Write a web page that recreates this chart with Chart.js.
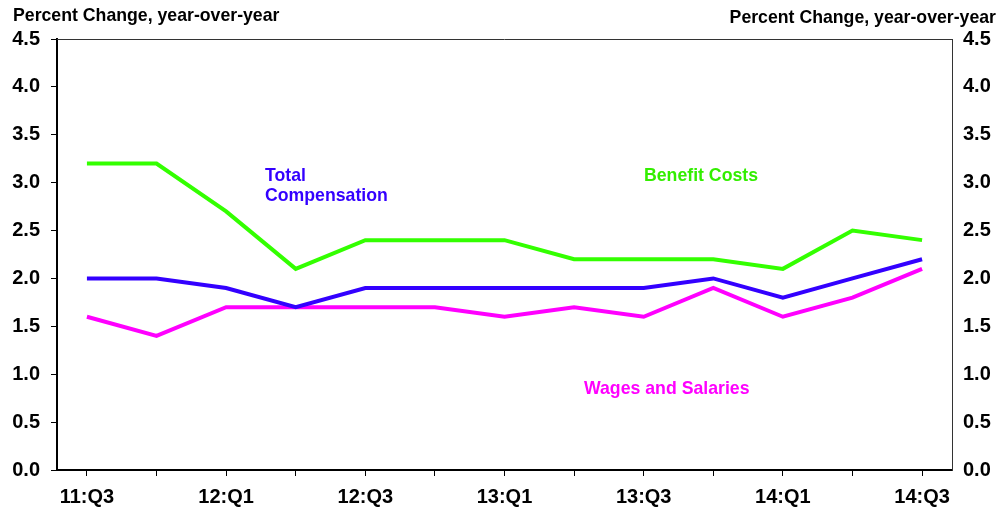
<!DOCTYPE html>
<html>
<head>
<meta charset="utf-8">
<script src="https://cdn.jsdelivr.net/npm/chart.js@4/dist/chart.umd.min.js"></script>
<style>
  html, body { margin: 0; padding: 0; background: #fff; }
  #wrap { width: 1003px; height: 515px; }
</style>
</head>
<body>
<div id="wrap"><canvas id="ecChart"></canvas></div>
<script>
const quarters = ["11:Q3", "11:Q4", "12:Q1", "12:Q2", "12:Q3", "12:Q4", "13:Q1",
                  "13:Q2", "13:Q3", "13:Q4", "14:Q1", "14:Q2", "14:Q3"];
const benefitCosts = [3.2, 3.2, 2.7, 2.1, 2.4, 2.4, 2.4, 2.2, 2.2, 2.2, 2.1, 2.5, 2.4];
const totalComp    = [2.0, 2.0, 1.9, 1.7, 1.9, 1.9, 1.9, 1.9, 1.9, 2.0, 1.8, 2.0, 2.2];
const wages        = [1.6, 1.4, 1.7, 1.7, 1.7, 1.7, 1.6, 1.7, 1.6, 1.9, 1.6, 1.8, 2.1];
const yTicks = [0, 0.5, 1, 1.5, 2, 2.5, 3, 3.5, 4, 4.5];

const FONT = "'Liberation Sans', Arial, sans-serif";

function pts(arr) {
  return arr.map((v, i) => ({ x: i, y: v }));
}

// axis captions, series labels and top frame line
const decor = {
  id: "decor",
  afterDraw(chart) {
    const ctx = chart.ctx;
    const a = chart.chartArea;
    ctx.save();
    ctx.strokeStyle = "#333";
    ctx.lineWidth = 1;
    ctx.beginPath();
    ctx.moveTo(a.left, a.top + 0.5);
    ctx.lineTo(a.right, a.top + 0.5);
    ctx.stroke();

    ctx.font = "bold 17.7px " + FONT;
    ctx.textBaseline = "middle";
    ctx.fillStyle = "#000";
    ctx.textAlign = "left";
    ctx.fillText("Percent Change, year-over-year", 13, 16);
    ctx.textAlign = "right";
    ctx.fillText("Percent Change, year-over-year", 996, 18);

    ctx.textAlign = "left";
    ctx.fillStyle = "#3300ff";
    ctx.fillText("Total", 265, 176);
    ctx.fillText("Compensation", 265, 196);
    ctx.fillStyle = "#33ee00";
    ctx.fillText("Benefit Costs", 644, 176);
    ctx.fillStyle = "#ff00ff";
    ctx.fillText("Wages and Salaries", 584, 389);
    ctx.restore();
  }
};

const yTickOpts = {
  font: { family: FONT, size: 20, weight: "bold" },
  color: "#000",
  padding: 11,
  callback: v => v.toFixed(1)
};

new Chart(document.getElementById("ecChart"), {
  type: "line",
  data: {
    datasets: [
      { label: "Benefit Costs", data: pts(benefitCosts), borderColor: "#33ff00" },
      { label: "Total Compensation", data: pts(totalComp), borderColor: "#3300ff" },
      { label: "Wages and Salaries", data: pts(wages), borderColor: "#ff00ff" }
    ]
  },
  options: {
    responsive: true,
    maintainAspectRatio: false,
    animation: false,
    layout: { padding: { top: 39 } },
    elements: {
      line: { borderWidth: 4, tension: 0 },
      point: { radius: 0 }
    },
    plugins: { legend: { display: false }, tooltip: { enabled: false } },
    scales: {
      x: {
        type: "linear",
        min: -0.43,
        max: 12.43,
        afterBuildTicks: axis => { axis.ticks = quarters.map((q, i) => ({ value: i })); },
        afterFit: axis => { axis.height = 45; },
        ticks: {
          autoSkip: false,
          maxRotation: 0,
          padding: 9,
          font: { family: FONT, size: 20, weight: "bold" },
          color: "#000",
          callback: (v, i) => (i % 2 === 0 ? quarters[i] : "")
        },
        grid: { drawOnChartArea: false, tickLength: 6, color: "#000" },
        border: { color: "#000", width: 2 }
      },
      y: {
        position: "left",
        min: 0,
        max: 4.5,
        afterBuildTicks: axis => { axis.ticks = yTicks.map(v => ({ value: v })); },
        afterFit: axis => { axis.width = 57; },
        ticks: yTickOpts,
        grid: { drawOnChartArea: false, tickLength: 6, color: "#000" },
        border: { color: "#000", width: 2 }
      },
      y2: {
        position: "right",
        min: 0,
        max: 4.5,
        afterBuildTicks: axis => { axis.ticks = yTicks.map(v => ({ value: v })); },
        afterFit: axis => { axis.width = 51; },
        ticks: yTickOpts,
        grid: { drawOnChartArea: false, drawTicks: false },
        border: { color: "#333", width: 1 }
      }
    }
  },
  plugins: [decor]
});
</script>
</body>
</html>
